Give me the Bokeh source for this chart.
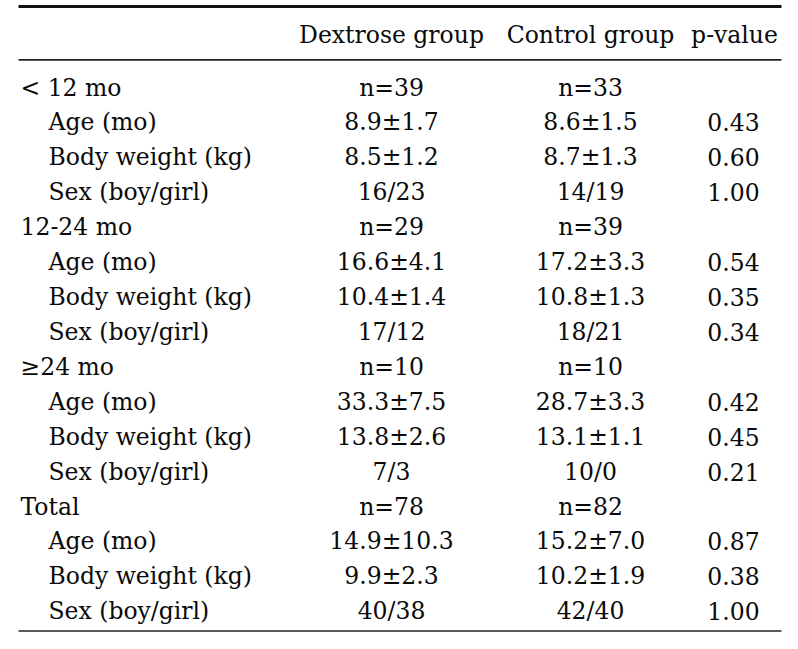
from bokeh.plotting import figure
from bokeh.models import Range1d, ColumnDataSource
from bokeh.core.properties import value
from bokeh.embed import file_html
from bokeh.resources import INLINE

headers = ["Dextrose group", "Control group", "p-value"]
labels = ["< 12 mo", "Age (mo)", "Body weight (kg)", "Sex (boy/girl)",
          "12-24 mo", "Age (mo)", "Body weight (kg)", "Sex (boy/girl)",
          "≥24 mo", "Age (mo)", "Body weight (kg)", "Sex (boy/girl)",
          "Total", "Age (mo)", "Body weight (kg)", "Sex (boy/girl)"]
is_group = [1, 0, 0, 0, 1, 0, 0, 0, 1, 0, 0, 0, 1, 0, 0, 0]
dextrose = ["n=39", "8.9±1.7", "8.5±1.2", "16/23",
            "n=29", "16.6±4.1", "10.4±1.4", "17/12",
            "n=10", "33.3±7.5", "13.8±2.6", "7/3",
            "n=78", "14.9±10.3", "9.9±2.3", "40/38"]
control = ["n=33", "8.6±1.5", "8.7±1.3", "14/19",
           "n=39", "17.2±3.3", "10.8±1.3", "18/21",
           "n=10", "28.7±3.3", "13.1±1.1", "10/0",
           "n=82", "15.2±7.0", "10.2±1.9", "42/40"]
pvalues = ["", "0.43", "0.60", "1.00",
           "", "0.54", "0.35", "0.34",
           "", "0.42", "0.45", "0.21",
           "", "0.87", "0.38", "1.00"]

W, H = 782, 633
p = figure(width=W, height=H, output_backend="svg", toolbar_location=None,
           x_range=Range1d(0, 782), y_range=Range1d(640, 0),
           min_border=0, min_border_left=0, min_border_right=0,
           min_border_top=0, min_border_bottom=0)
p.axis.visible = False
p.grid.visible = False
p.outline_line_color = None
p.background_fill_color = "white"

FONT = value("DejaVu Serif")
FS = "23.5px"
TC = "#0a0a0a"

# rules
p.segment(x0=[18], y0=[6], x1=[781], y1=[6], line_color="#111111", line_width=3)
p.segment(x0=[18, 18], y0=[60, 637.5], x1=[781, 781], y1=[60, 637.5], line_color="#222222", line_width=1.6)

col_x = [391, 590, 734]
p.text(x=col_x, y=[35, 35, 35], text=headers, text_font=FONT, text_font_size=FS,
       text_align="center", text_baseline="middle", text_color=TC)

ys = [88 + i * 35.3 for i in range(len(labels))]
lx = [20 if g else 48 for g in is_group]
src = ColumnDataSource(dict(x=lx, y=ys, t=labels))
p.text(x="x", y="y", text="t", source=src, text_font=FONT, text_font_size=FS,
       text_align="left", text_baseline="middle", text_color=TC)
p.text(x=[col_x[0]] * len(ys), y=ys, text=dextrose, text_font=FONT, text_font_size=FS,
       text_align="center", text_baseline="middle", text_color=TC)
p.text(x=[col_x[1]] * len(ys), y=ys, text=control, text_font=FONT, text_font_size=FS,
       text_align="center", text_baseline="middle", text_color=TC)
p.text(x=[733] * len(ys), y=ys, text=pvalues, text_font=FONT, text_font_size=FS,
       text_align="center", text_baseline="middle", text_color=TC)

open("out.html", "w").write(file_html(p, INLINE))
